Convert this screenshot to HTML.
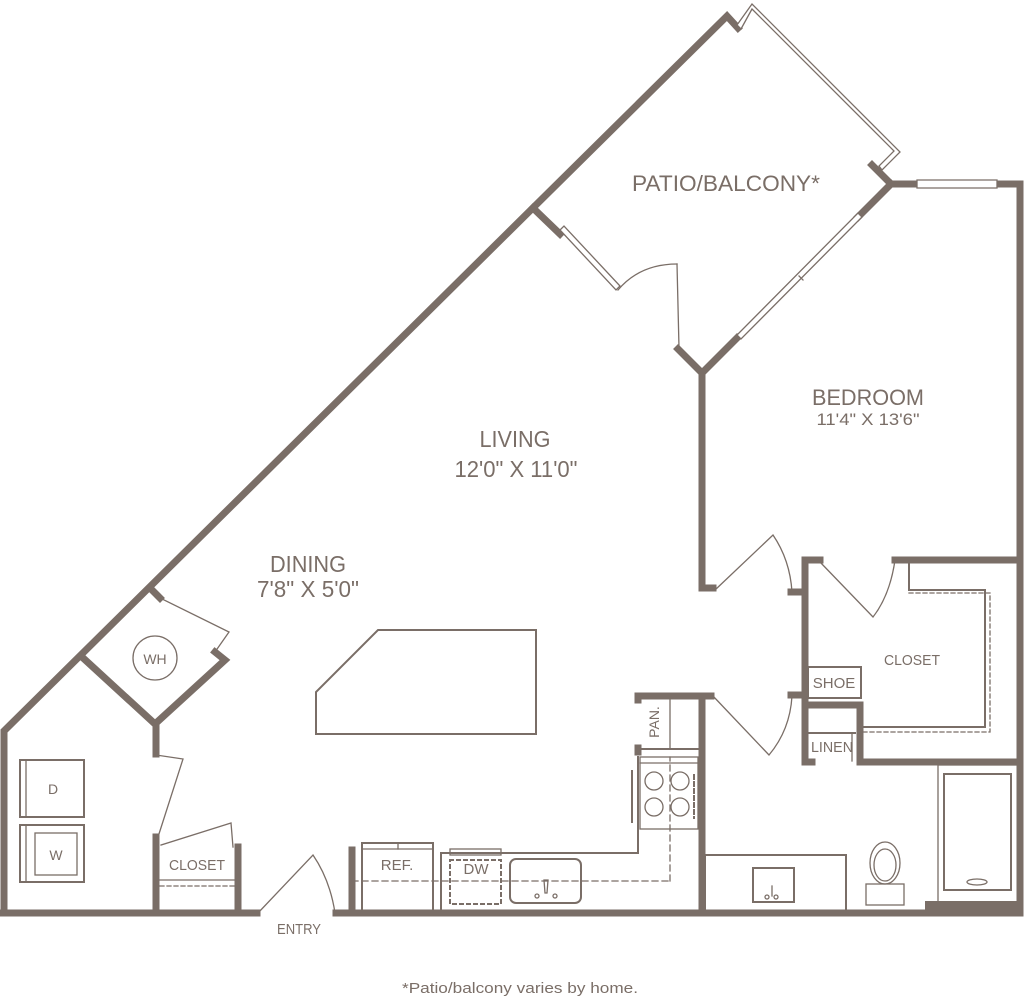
<!DOCTYPE html>
<html><head><meta charset="utf-8"><style>
html,body{margin:0;padding:0;background:#fff;width:1024px;height:998px;overflow:hidden}
svg{display:block}
text{font-family:"Liberation Sans Narrow","Liberation Sans",sans-serif;fill:#7a6e67}
</style></head><body>
<svg width="1024" height="998" viewBox="0 0 1024 998" xmlns="http://www.w3.org/2000/svg">
<g stroke="#7a6e67" fill="none" stroke-linecap="square">
<!-- thick walls -->
<g stroke-width="7">
<polyline points="4,913 4,731 727,16 738,28"/>
<line x1="0" y1="913" x2="257" y2="913"/>
<line x1="336" y1="913" x2="1020" y2="913"/>
<polyline points="872,165 891,184 1020,184 1020,913"/>
<polyline points="891,184 858,217"/>
<polyline points="737,338 702,373 678,349"/>
<line x1="702" y1="373" x2="702" y2="588"/>
<line x1="702" y1="588" x2="713" y2="588"/>
<line x1="533" y1="208" x2="560" y2="234"/>
<!-- left closets -->
<polyline points="82,657 155,724 225,660 215,652"/>
<line x1="150" y1="588" x2="160" y2="598"/>
<line x1="156" y1="724" x2="156" y2="754"/>
<line x1="156" y1="837" x2="156" y2="913"/>
<line x1="238" y1="847" x2="238" y2="913"/>
<line x1="352" y1="850" x2="352" y2="913"/>
<!-- kitchen/pantry -->
<polyline points="638,697 638,696 711,696"/>
<line x1="638" y1="696" x2="638" y2="700"/>
<line x1="638" y1="748" x2="638" y2="752"/>
<line x1="702" y1="696" x2="702" y2="913"/>
<!-- bath/closet walls -->
<polyline points="791,592 803,592"/>
<polyline points="791,695 803,695"/>
<polyline points="820,560 805,560 805,762 812,762"/>
<line x1="895" y1="560" x2="1020" y2="560"/>
<polyline points="805,705 860,705 860,762 1020,762"/>
</g>
<rect x="925" y="901" width="95" height="15" fill="#7a6e67" stroke="none"/>
<!-- windows / railing -->
<g stroke-width="1.3" fill="#fff">
<polygon points="737,25 752,4 900,152 882,170 879,166 894,151 752,9 741,29"/>
<polygon points="917,180 997,180 997,188 917,188"/>
<polygon points="858,213 862,217 741,339 737,335"/>
<line x1="799" y1="276" x2="803" y2="280"/>
<polygon points="560,230 564,226 620,286 616,290"/>
</g>
<g stroke-width="1.3">
<!-- patio door -->
<path d="M618,290 Q640,264 677,264"/>
<line x1="677" y1="264" x2="679" y2="348"/>
<!-- island -->
<polygon points="378,630 536,630 536,734 316,734 316,692" stroke-width="2"/>
<!-- WH -->
<polyline points="160,598 229,632 215,652"/>
<circle cx="155" cy="658" r="22"/>
<!-- laundry door -->
<polyline points="156,755 183,759 158,837"/>
<!-- closet door -->
<polyline points="161,845 231,823 233,847"/>
<line x1="160" y1="880" x2="236" y2="880"/>
<line x1="160" y1="886" x2="236" y2="886" stroke-dasharray="4,3"/>
<!-- W/D -->
<rect x="20" y="760" width="64" height="57" stroke-width="2"/>
<line x1="26" y1="761" x2="26" y2="816"/>
<rect x="20" y="825" width="64" height="57" stroke-width="2"/>
<line x1="26" y1="826" x2="26" y2="881"/>
<rect x="35" y="833" width="42" height="42"/>
<!-- entry door -->
<path d="M258,913 L313,855 Q330,880 335,913"/>
<!-- kitchen -->
<rect x="362" y="843" width="71" height="68" stroke-width="2"/>
<line x1="363" y1="849" x2="432" y2="849"/>
<line x1="398" y1="843" x2="398" y2="849"/>
<polyline points="441,913 441,853 638,853 638,757" stroke-width="2"/>
<rect x="450" y="849" width="51" height="6"/>
<rect x="450" y="860" width="51" height="44" stroke-dasharray="3,4" stroke-width="2"/>
<rect x="510" y="859" width="71" height="44" rx="6" stroke-width="2"/>
<line x1="352" y1="881" x2="670" y2="881" stroke-dasharray="6,4"/>
<line x1="670" y1="881" x2="670" y2="757" stroke-dasharray="6,4"/>
<path d="M544,880 L548,880 L547,893 L545,893 Z"/>
<circle cx="537" cy="896" r="2"/><circle cx="555" cy="896" r="2"/>
<rect x="640" y="757" width="58" height="72"/>
<line x1="640" y1="763" x2="698" y2="763"/>
<line x1="632" y1="771" x2="632" y2="822" stroke-width="2"/>
<circle cx="654" cy="781" r="9"/><circle cx="680" cy="781" r="9"/>
<circle cx="654" cy="807" r="9"/><circle cx="680" cy="807" r="9"/>
<line x1="694" y1="775" x2="694" y2="818" stroke-dasharray="4,3" stroke-width="2"/>
<line x1="670" y1="699" x2="670" y2="749"/>
<line x1="640" y1="749" x2="700" y2="749" stroke-width="2"/>
<!-- bedroom doors -->
<path d="M715,590 L773,535 Q790,560 792,592"/>
<path d="M713,696 L769,755 Q790,730 792,696"/>
<path d="M820,562 L873,617 Q890,595 895,560"/>
<!-- walk-in closet shelves -->
<polyline points="909,563 909,590 985,590 985,727 862,727" stroke-width="2"/>
<polyline points="909,593 990,593 990,732 862,732" stroke-dasharray="4,3"/>
<rect x="808" y="667" width="53" height="31" stroke-width="2"/>
<line x1="808" y1="733" x2="855" y2="733" stroke-width="2"/>
<line x1="852" y1="733" x2="852" y2="761"/>
<!-- bath -->
<rect x="938" y="765" width="80" height="137"/>
<rect x="944" y="774" width="67" height="116" stroke-width="2"/>
<ellipse cx="977" cy="882" rx="10" ry="3"/>
<rect x="705" y="855" width="141" height="56" stroke-width="2"/>
<rect x="753" y="868" width="41" height="34" stroke-width="2"/>
<circle cx="767" cy="897" r="2"/><circle cx="776" cy="897" r="2"/>
<line x1="772" y1="886" x2="772" y2="896"/>
<ellipse cx="885" cy="863" rx="15" ry="21"/>
<ellipse cx="885" cy="865" rx="11" ry="16"/>
<rect x="866" y="884" width="38" height="21"/>
</g>
</g>
<text x="726" y="191" font-size="22" textLength="188" lengthAdjust="spacingAndGlyphs" text-anchor="middle">PATIO/BALCONY*</text>
<text x="868" y="405" font-size="22" textLength="112" lengthAdjust="spacingAndGlyphs" text-anchor="middle">BEDROOM</text>
<text x="868" y="425" font-size="17" textLength="103" lengthAdjust="spacingAndGlyphs" text-anchor="middle">11'4" X 13'6"</text>
<text x="515" y="447" font-size="23" textLength="71" lengthAdjust="spacingAndGlyphs" text-anchor="middle">LIVING</text>
<text x="516" y="477" font-size="23" textLength="123" lengthAdjust="spacingAndGlyphs" text-anchor="middle">12'0" X 11'0"</text>
<text x="308" y="572" font-size="23" textLength="76" lengthAdjust="spacingAndGlyphs" text-anchor="middle">DINING</text>
<text x="308" y="597" font-size="23" textLength="102" lengthAdjust="spacingAndGlyphs" text-anchor="middle">7'8" X 5'0"</text>
<text x="155" y="664" font-size="14" text-anchor="middle">WH</text>
<text x="53" y="794" font-size="14" text-anchor="middle">D</text>
<text x="56" y="860" font-size="14" text-anchor="middle">W</text>
<text x="197" y="870" font-size="15" textLength="56" lengthAdjust="spacingAndGlyphs" text-anchor="middle">CLOSET</text>
<text x="299" y="934" font-size="15" textLength="44" lengthAdjust="spacingAndGlyphs" text-anchor="middle">ENTRY</text>
<text x="397" y="870" font-size="15" text-anchor="middle">REF.</text>
<text x="476" y="874" font-size="15" text-anchor="middle">DW</text>
<text x="0" y="0" font-size="14" text-anchor="middle" transform="translate(659,722) rotate(-90)">PAN.</text>
<text x="912" y="665" font-size="15" textLength="56" lengthAdjust="spacingAndGlyphs" text-anchor="middle">CLOSET</text>
<text x="834" y="688" font-size="15" text-anchor="middle">SHOE</text>
<text x="832" y="752" font-size="15" textLength="42" lengthAdjust="spacingAndGlyphs" text-anchor="middle">LINEN</text>
<text x="520" y="993" font-size="15" textLength="236" lengthAdjust="spacingAndGlyphs" text-anchor="middle" font-family="Liberation Sans, sans-serif">*Patio/balcony varies by home.</text>
</svg>
</body></html>
